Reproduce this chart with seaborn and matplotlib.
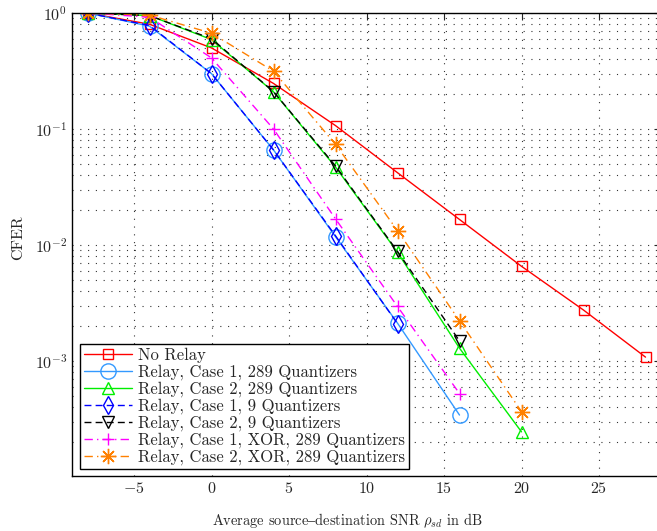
import numpy as np
import pandas as pd
import matplotlib
matplotlib.use("Agg")
import matplotlib.pyplot as plt
import seaborn as sns
from matplotlib.ticker import LogLocator, FixedLocator, NullFormatter

sns.set_style("white")
plt.rcParams['font.family'] = ['cmr10', 'DejaVu Serif']
plt.rcParams['mathtext.fontset'] = 'cm'
plt.rcParams['axes.formatter.use_mathtext'] = True
plt.rcParams['axes.unicode_minus'] = True

# ---- data ----
x_norelay = [-8, -4, 0, 4, 8, 12, 16, 20, 24, 28]
y_norelay = [1.0, 0.80, 0.50, 0.247, 0.107, 0.042, 0.0166, 0.00655, 0.00275, 0.00108]

x_c1_289 = [-8, -4, 0, 4, 8, 12, 16]
y_c1_289 = [1.0, 0.77, 0.30, 0.066, 0.0118, 0.00212, 0.000342]

x_c2_289 = [-8, -4, 0, 4, 8, 12, 16, 20]
y_c2_289 = [1.0, 0.95, 0.59, 0.209, 0.047, 0.00865, 0.00129, 0.000245]

x_c1_9 = [-8, -4, 0, 4, 8, 12]
y_c1_9 = [1.0, 0.78, 0.30, 0.066, 0.012, 0.0021]

x_c2_9 = [-8, -4, 0, 4, 8, 12, 16]
y_c2_9 = [1.0, 0.95, 0.60, 0.21, 0.048, 0.0088, 0.00149]

x_c1_xor = [-8, -4, 0, 4, 8, 12, 16]
y_c1_xor = [1.0, 0.92, 0.41, 0.10, 0.0168, 0.00295, 0.000524]

x_c2_xor = [-8, -4, 0, 4, 8, 12, 16, 20]
y_c2_xor = [1.0, 0.96, 0.67, 0.315, 0.0738, 0.0133, 0.00222, 0.000366]

labels = ["No Relay",
          "Relay, Case 1, 289 Quantizers",
          "Relay, Case 2, 289 Quantizers",
          "Relay, Case 1, 9 Quantizers",
          "Relay, Case 2, 9 Quantizers",
          "Relay, Case 1, XOR, 289 Quantizers",
          "Relay, Case 2, XOR, 289 Quantizers"]
xticks = [-5, 0, 5, 10, 15, 20, 25]

series = [
    (x_norelay, y_norelay, dict(color='#ff0000', marker='s', ls='-', ms=7)),
    (x_c1_289, y_c1_289, dict(color='#3399ff', marker='o', ls='-', ms=11)),
    (x_c2_289, y_c2_289, dict(color='#00ee00', marker='^', ls='-', ms=8)),
    (x_c1_9, y_c1_9, dict(color='#0000ff', marker='d', ls=(0, (5, 3)), ms=9)),
    (x_c2_9, y_c2_9, dict(color='#000000', marker='v', ls=(0, (5, 3)), ms=8)),
    (x_c1_xor, y_c1_xor, dict(color='#ff00ff', marker='+', ls=(0, (6, 3, 1, 3)), ms=9)),
    (x_c2_xor, y_c2_xor, dict(color='#ff8000', marker=(8, 2, 0), ls=(0, (6, 3, 1, 3)), ms=11)),
]

fig = plt.figure(figsize=(6.57, 5.31), dpi=100)
ax = fig.add_axes([72/657, 1-476/531, 589/657, 463/531])

for (xs, ys, st), lab in zip(series, labels):
    df = pd.DataFrame({'x': xs, 'y': ys})
    sns.lineplot(data=df, x='x', y='y', ax=ax, label=lab, color=st['color'],
                 marker=st['marker'], linestyle=st['ls'], markersize=st['ms'],
                 markerfacecolor='none', markeredgecolor=st['color'],
                 markeredgewidth=1.0, linewidth=1.0, sort=False)

ax.set_yscale('log')
ax.set_xlim(-9, 29)
ax.set_ylim(1.02e-4, 1)
ax.xaxis.set_major_locator(FixedLocator(xticks))
ax.yaxis.set_major_locator(FixedLocator([1e-3, 1e-2, 1e-1, 1]))
ax.yaxis.set_minor_locator(LogLocator(base=10, subs=np.arange(2, 10)))
ax.yaxis.set_minor_formatter(NullFormatter())

ax.grid(True, which='major', axis='both', linestyle=(0, (1, 6)), color='k', linewidth=0.8, alpha=0.8)
ax.grid(True, which='minor', axis='y', linestyle=(0, (1, 6)), color='k', linewidth=0.8, alpha=0.8)

ax.tick_params(which='both', direction='in', top=True, right=True, labelsize=11.5)
ax.tick_params(which='major', length=5)
ax.tick_params(which='minor', length=3)
for s in ax.spines.values():
    s.set_color('k')
    s.set_linewidth(1.0)

ax.set_xlabel(r"Average source$\mathrm{–}$destination SNR $\rho_{sd}$ in dB", fontsize=10.4)
ax.xaxis.set_label_coords(0.467, -0.076)
ax.set_ylabel("CFER", fontsize=11.5)
ax.yaxis.set_label_coords(-0.08, 0.515)

leg = ax.legend(loc='lower left', bbox_to_anchor=(0.0136, 0.015), borderaxespad=0,
                fontsize=12, handlelength=2.9, labelspacing=0.08, borderpad=0.22,
                handletextpad=0.35, fancybox=False, framealpha=1, edgecolor='k')
leg.get_frame().set_linewidth(1.0)

fig.savefig("out.png", dpi=100)
